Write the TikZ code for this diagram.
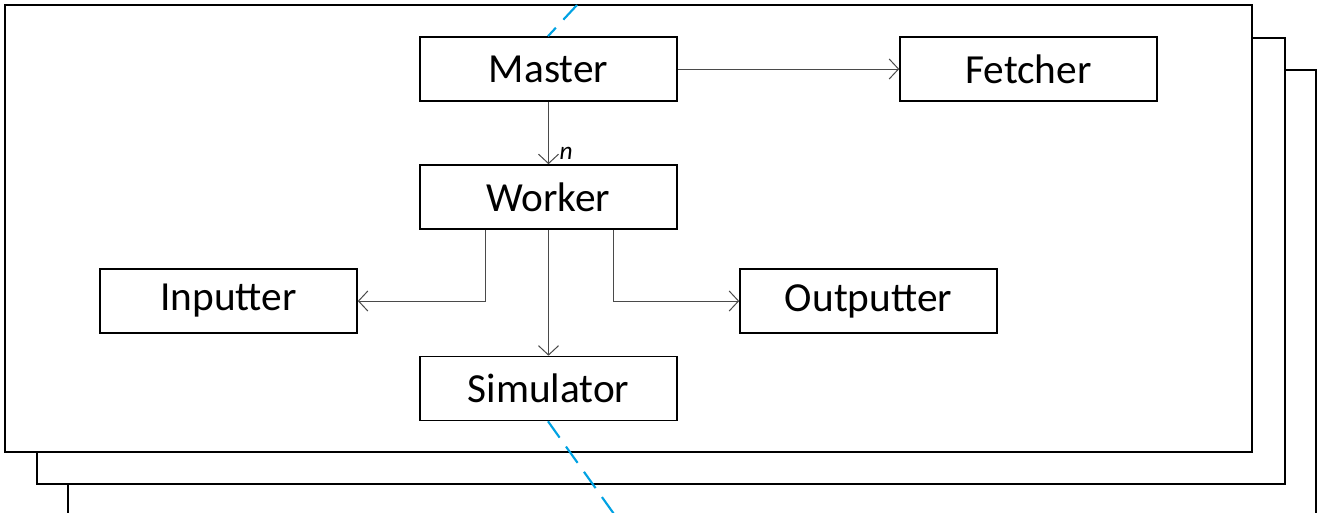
\documentclass[tikz,border=0pt]{standalone}
\usepackage{fontspec}
\setmainfont{Carlito}
\usetikzlibrary{arrows.meta}
\definecolor{dashblue}{HTML}{00A2E3}
\definecolor{conngray}{HTML}{4A4A4A}
\tikzset{
  frame/.style={draw=black, line width=1.3pt, fill=white},
  box/.style={draw=black, line width=1.2pt, fill=white, minimum width=192.75pt, minimum height=48pt, inner sep=0pt, font=\fontsize{31}{36}\selectfont},
  conn/.style={draw=conngray, line width=0.75pt, -{Straight Barb[length=7pt,width=15pt,line width=0.75pt]}},
  cut/.style={draw=dashblue, line width=1.6pt, dash pattern=on 15pt off 8.25pt}
}
\begin{document}
\begin{tikzpicture}[x=0.75pt,y=-0.75pt]
\useasboundingbox (0,0) rectangle (1317,512);
\clip (0,0) rectangle (1317,512);
\fill[white] (0,0) rectangle (1317,512);
% stacked frames
\draw[frame] (68,70) rectangle (1316,530);
\draw[frame] (37,38) rectangle (1285,484);
\draw[frame] (5,5) rectangle (1252,452);
% boxes
\node[box] (master) at (548.5,69) {Master};
\node[box] (fetcher) at (1028.5,69) {Fetcher};
\node[box] (worker) at (548.5,197) {Worker};
\node[box] (inputter) at (228.5,301) {Inputter};
\node[box] (outputter) at (868.5,301) {Outputter};
\node[box] (simulator) at (548.5,388.5) {Simulator};
% connectors
\draw[conn] (master) -- node[pos=0.82, right=8pt, inner sep=0pt, font=\fontsize{19}{22}\selectfont\itshape] (nlabel) {n} (worker);
\draw[conn] (master) -- (fetcher);
\coordinate (wl) at (485,229);
\coordinate (wr) at (613,229);
\draw[conn] (worker.south -| wl) |- (inputter.east);
\draw[conn] (worker.south -| wr) |- (outputter.west);
\draw[conn] (worker) -- (simulator);
% cut line
\coordinate (ctop) at (577,5);
\coordinate (cbot) at (614,514);
\draw[cut] (ctop) -- (master.north -| 548,0);
\draw[cut] (simulator.south -| 548,0) -- (cbot);
\end{tikzpicture}
\end{document}
